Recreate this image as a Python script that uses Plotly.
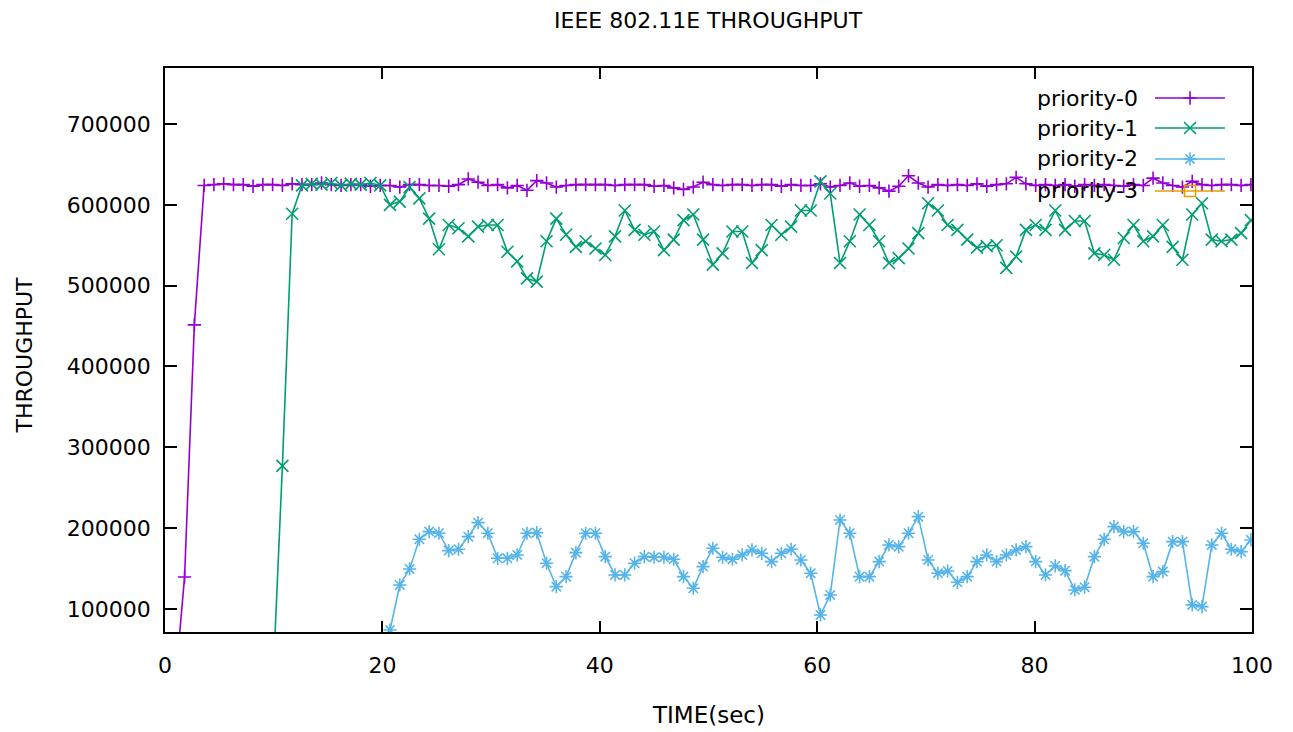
import plotly.graph_objects as go

TIME = [0.0, 0.9, 1.8, 2.7, 3.6, 4.5, 5.4, 6.3, 7.2, 8.1, 9.0, 9.9, 10.8, 11.7, 12.6, 13.5,
        14.4, 15.3, 16.2, 17.1, 18.0, 18.9, 19.8, 20.7, 21.6, 22.5, 23.4, 24.3, 25.2, 26.1,
        27.0, 27.9, 28.8, 29.7, 30.6, 31.5, 32.4, 33.3, 34.2, 35.1, 36.0, 36.9, 37.8, 38.7,
        39.6, 40.5, 41.4, 42.3, 43.2, 44.1, 45.0, 45.9, 46.8, 47.7, 48.6, 49.5, 50.4, 51.3,
        52.2, 53.1, 54.0, 54.9, 55.8, 56.7, 57.6, 58.5, 59.4, 60.3, 61.2, 62.1, 63.0, 63.9,
        64.8, 65.7, 66.6, 67.5, 68.4, 69.3, 70.2, 71.1, 72.0, 72.9, 73.8, 74.7, 75.6, 76.5,
        77.4, 78.3, 79.2, 80.1, 81.0, 81.9, 82.8, 83.7, 84.6, 85.5, 86.4, 87.3, 88.2, 89.1,
        90.0, 90.9, 91.8, 92.7, 93.6, 94.5, 95.4, 96.3, 97.2, 98.1, 99.0, 99.9]

PRIORITY_0 = [0, 0, 139600, 451500, 624000, 625000, 626000, 625000, 625000, 623000,
              625000, 625000, 624000, 626000, 625000, 625000, 627000, 625000, 624000, 625000,
              625000, 623000, 624000, 624000, 622000, 625000, 625000, 624000, 624000, 623000,
              625000, 632000, 628000, 624000, 625000, 621000, 624000, 618000, 630000, 627000,
              622000, 624000, 625000, 625000, 625000, 625000, 624000, 625000, 625000, 625000,
              623000, 624000, 621000, 619000, 622000, 628000, 625000, 624000, 625000, 625000,
              624000, 625000, 625000, 623000, 625000, 624000, 624000, 626000, 622000, 624000,
              627000, 623000, 624000, 621000, 617000, 623000, 636000, 627000, 622000, 625000,
              624000, 625000, 624000, 626000, 623000, 625000, 626000, 634000, 626000, 624000,
              625000, 624000, 625000, 623000, 625000, 624000, 625000, 624000, 623000, 625000,
              624000, 633000, 627000, 624000, 622000, 629000, 625000, 624000, 625000, 625000,
              624000, 625000]

PRIORITY_1 = [0, 0, 0, 0, 0, 0, 0, 0, 0, 0,
              0, 0, 277000, 589000, 624000, 626000, 625000, 627000, 624000, 626000,
              625000, 627000, 624000, 600000, 604000, 622000, 608000, 583000, 545000, 575000,
              571000, 561000, 573000, 575000, 575000, 542000, 530000, 509000, 505000, 555000,
              583000, 563000, 548000, 555000, 546000, 538000, 561000, 593000, 569000, 563000,
              567000, 544000, 557000, 581000, 588000, 557000, 526000, 540000, 567000, 567000,
              528000, 544000, 575000, 563000, 573000, 593000, 593000, 629000, 614000, 528000,
              555000, 588000, 575000, 555000, 528000, 534000, 546000, 565000, 602000, 593000,
              575000, 569000, 557000, 547000, 549000, 550000, 522000, 536000, 569000, 575000,
              569000, 593000, 569000, 580000, 580000, 540000, 538000, 532000, 559000, 575000,
              555000, 561000, 575000, 548000, 532000, 588000, 602000, 557000, 555000, 557000,
              565000, 581000]

PRIORITY_2 = [0, 0, 0, 0, 0, 0, 0, 0, 0, 0,
              0, 0, 0, 0, 0, 0, 0, 0, 0, 0,
              0, 0, 0, 74000, 129700, 149500, 186200, 195700, 193700, 172200,
              173900, 189500, 206800, 193700, 162700, 162700, 166800, 193700, 194500, 156600,
              127600, 140000, 169700, 193700, 193700, 164700, 142100, 142100, 156600, 164700,
              164000, 164000, 161500, 140000, 125600, 152400, 175100, 164000, 161500, 166800,
              173000, 168900, 158600, 168900, 173900, 160600, 144200, 92600, 117300, 210100,
              193700, 140000, 140000, 158600, 179200, 177100, 193700, 214200, 160600, 144200,
              147000, 133000, 140000, 158600, 166800, 158600, 166800, 173000, 177100, 158600,
              142100, 153200, 147400, 123500, 126900, 164700, 186200, 201900, 195700, 195700,
              181300, 140000, 146200, 183300, 183300, 105000, 102900, 179200, 193700, 173900,
              170900, 185400]

PRIORITY_3 = [0, 0, 0, 0, 0, 0, 0, 0, 0, 0, 0, 0, 0, 0, 0, 0, 0, 0, 0, 0,
              0, 0, 0, 0, 0, 0, 0, 0, 0, 0, 0, 0, 0, 0, 0, 0, 0, 0, 0, 0,
              0, 0, 0, 0, 0, 0, 0, 0, 0, 0, 0, 0, 0, 0, 0, 0, 0, 0, 0, 0,
              0, 0, 0, 0, 0, 0, 0, 0, 0, 0, 0, 0, 0, 0, 0, 0, 0, 0, 0, 0,
              0, 0, 0, 0, 0, 0, 0, 0, 0, 0, 0, 0, 0, 0, 0, 0, 0, 0, 0, 0,
              0, 0, 0, 0, 0, 0, 0, 0, 0, 0, 0, 0]

SERIES_NAMES = ["priority-0", "priority-1", "priority-2", "priority-3"]
X_TICKS = [0, 20, 40, 60, 80, 100]
Y_TICKS = [100000, 200000, 300000, 400000, 500000, 600000, 700000]
Y_TICK_LABELS = ["100000", "200000", "300000", "400000", "500000", "600000", "700000"]

COLORS = ["#9400d3", "#009e73", "#56b4e9", "#e69f00"]
SYMBOLS = ["cross-thin-open", "x-thin-open", "asterisk-open", "square-open"]
SIZES = [9.5, 12, 11, 11]

FONT = "DejaVu Sans"

fig = go.Figure()
series = [PRIORITY_0, PRIORITY_1, PRIORITY_2, PRIORITY_3]
for name, vals, c, s, sz in zip(SERIES_NAMES, series, COLORS, SYMBOLS, SIZES):
    fig.add_trace(go.Scatter(
        x=TIME, y=vals, name=name, mode="lines+markers",
        line=dict(color=c, width=1.6),
        marker=dict(symbol=s, size=sz, color=c, line=dict(color=c, width=1.6)),
        showlegend=False, xaxis="x", yaxis="y",
    ))

# gnuplot-style key: text right-aligned, sample to its right
key_rows = [0.9468, 0.8936, 0.8387, 0.7820]
for name, c, s, sz, ry in zip(SERIES_NAMES, COLORS, SYMBOLS, SIZES, key_rows):
    fig.add_trace(go.Scatter(
        x=[0.9107, 0.9751], y=[ry, ry], mode="lines",
        line=dict(color=c, width=1.6), showlegend=False, hoverinfo="skip",
        xaxis="x2", yaxis="y2",
    ))
    fig.add_trace(go.Scatter(
        x=[0.943], y=[ry], mode="markers",
        marker=dict(symbol=s, size=sz, color=c, line=dict(color=c, width=1.6)),
        showlegend=False, hoverinfo="skip", xaxis="x2", yaxis="y2",
    ))
    fig.add_annotation(text=name, x=0.897, y=ry, xref="paper", yref="paper",
                       xanchor="right", yanchor="middle", showarrow=False,
                       font=dict(family=FONT, size=22, color="#000000"))

axis_common = dict(showline=True, linecolor="#000000", linewidth=1.5, mirror="ticks",
                   ticks="inside", tickcolor="#000000", tickwidth=1.5,
                   showgrid=False, zeroline=False,
                   tickfont=dict(family=FONT, size=22, color="#000000"))

fig.update_layout(
    width=1293, height=732, autosize=False,
    margin=dict(l=165, r=41, t=68, b=100),
    paper_bgcolor="#ffffff", plot_bgcolor="#ffffff",
    xaxis=dict(range=[0, 100], tickvals=X_TICKS, ticklen=11, ticklabelstandoff=13,
               **axis_common),
    yaxis=dict(range=[71500, 769300], tickvals=Y_TICKS, ticktext=Y_TICK_LABELS,
               ticklen=12, ticklabelstandoff=8, **axis_common),
    xaxis2=dict(overlaying="x", range=[0, 1], visible=False, anchor="y2"),
    yaxis2=dict(overlaying="y", range=[0, 1], visible=False, anchor="x2"),
    showlegend=False,
)

fig.add_annotation(text="IEEE 802.11E THROUGHPUT", x=0.5, y=1.085, xref="paper", yref="paper",
                   xanchor="center", yanchor="middle", showarrow=False,
                   font=dict(family=FONT, size=22, color="#000000"))
fig.add_annotation(text="TIME(sec)", x=0.5, y=-0.147, xref="paper", yref="paper",
                   xanchor="center", yanchor="middle", showarrow=False,
                   font=dict(family=FONT, size=23, color="#000000"))
fig.add_annotation(text="THROUGHPUT", x=-0.1293, y=0.491, xref="paper", yref="paper",
                   xanchor="center", yanchor="middle", showarrow=False, textangle=-90,
                   font=dict(family=FONT, size=22, color="#000000"))

fig.write_html("out.html")
